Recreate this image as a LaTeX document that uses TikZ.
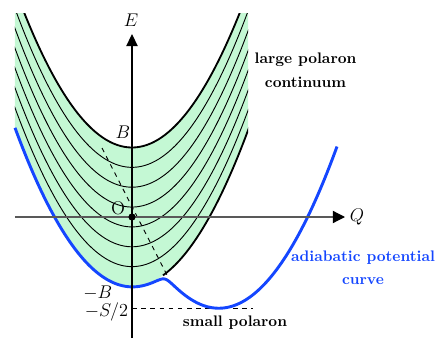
\documentclass[tikz,border=0pt]{standalone}
\usetikzlibrary{arrows.meta}
\definecolor{contgreen}{RGB}{196,248,212}
\definecolor{adblue}{RGB}{20,70,255}
\begin{document}
\begin{tikzpicture}[x=0.6536pt,y=0.6536pt,
  declare function={
    par(\x)=1.16*(\x/10)*(\x/10);
    EA(\x)=-69.5+par(\x);
    EB(\x)=-91+par(\x-87);
    dd(\x)=(2.0184*\x-66.3)/2;
    ad(\x)=(EA(\x)+EB(\x))/2-10*sqrt((dd(\x)/10)*(dd(\x)/10)+0.25);
  },
  thinpar/.style={line width=0.6pt},
  boldpar/.style={line width=1.2pt},
  bluecurve/.style={adblue,line width=1.9pt},
  axisline/.style={line width=0.8pt},
  boldlabel/.style={font=\bfseries,align=center},
  mathlabel/.style={font=\large}
]
\useasboundingbox (-132,-121) rectangle (305,217);
% green continuum
\begin{scope}
  \clip (-117,-130) rectangle (116,203);
  \fill[contgreen] plot[domain=-130:130,samples=80,smooth] (\x,{69.5+par(\x)})
     -- plot[domain=130:-130,samples=80,smooth] (\x,{-69.5+par(\x)}) -- cycle;
  \draw[boldpar] plot[domain=-125:125,samples=80,smooth] (\x,{69.5+par(\x)});
  \foreach \n in {1,...,6}{
    \draw[thinpar] plot[domain=-125:125,samples=80,smooth] (\x,{69.5-139*\n/7+par(\x)});
  }
  \draw[boldpar] plot[domain=31:125,samples=40,smooth] (\x,{-69.5+par(\x)});
\end{scope}
% dashed guide lines
\coordinate (dA) at (-30,69);
\coordinate (dB) at (36,-60);
\draw[dashed,thinpar] (dA) -- (dB);
\coordinate (sA) at (0,-91);
\coordinate (sB) at (121,-91);
\draw[dashed,thinpar] (sA) -- (sB);
% adiabatic curve
\draw[bluecurve] plot[domain=-117:205,samples=160,smooth] (\x,{ad(\x)});
% axes
\coordinate (xl) at (-117,0);
\coordinate (xr) at (213,0);
\coordinate (yb) at (0,-121);
\coordinate (yt) at (0,183);
\draw[axisline,black!65,-{Triangle[length=8,width=8,black]}] (xl) -- (xr);
\draw[axisline,-{Triangle[length=8,width=7.5]}] (yb) -- (yt);
\node[mathlabel] (Elab) at (-1,197) {$E$};
\node[mathlabel] (Qlab) at (225,0) {$Q$};
\fill (0,0) circle (3.6);
\node[mathlabel] (Olab) at (-14,9) {O};
\node[mathlabel] (Blab) at (-9,85) {$B$};
\node[mathlabel,anchor=east,inner sep=1pt] (mBlab) at (-18,-76) {$-B$};
\node[mathlabel,anchor=east,inner sep=1pt] (mSlab) at (-2,-95) {$-S/2$};
\node[boldlabel] (large) at (173.5,147) {large polaron\\[3.7pt]continuum};
\node[boldlabel,adblue] (adiab) at (231,-51) {adiabatic potential\\[3pt]curve};
\node[boldlabel] (small) at (103,-106) {small polaron};
\end{tikzpicture}
\end{document}
